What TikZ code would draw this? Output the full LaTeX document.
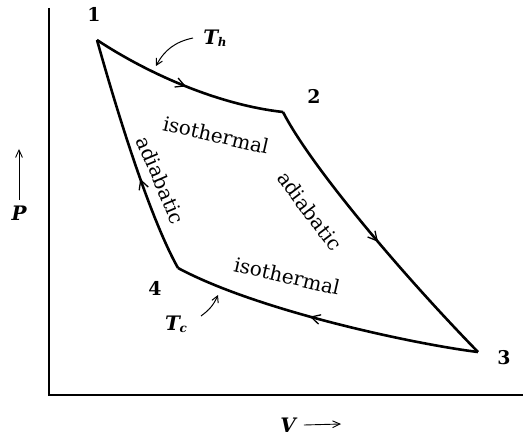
\documentclass[tikz,border=0pt]{standalone}
\usepackage{fontspec}
\setmainfont{DejaVu Serif}
\usetikzlibrary{arrows.meta,positioning,decorations.markings}

\begin{document}
\begin{tikzpicture}[
      x=1bp, y=-1bp,
      font=\fontsize{20}{22}\selectfont,
      axis/.style={line width=1.6bp},
      cyc/.style={line width=2.6bp, line join=miter},
      mid/.style={postaction={decorate}, decoration={markings,
        mark=at position #1 with {\arrow{Straight Barb[length=3.2mm, width=3.4mm, line width=1.3bp]}}}},
      pt/.style={inner sep=0pt, font=\fontsize{19}{21}\selectfont\bfseries},
      lab/.style={inner sep=0pt},
      sym/.style={inner sep=0pt, font=\fontsize{20}{22}\selectfont\bfseries\itshape},
      ptr/.style={-{Straight Barb[length=2.2mm, width=2.4mm]}, line width=1bp}
    ]
      \useasboundingbox (0,0) rectangle (523,438);
      % axes
      \coordinate (o) at (49,395);
      \draw[axis] (49,8) -- (o) -- (523,395);
      \node[sym] (p) at (19,213) {P};
      \coordinate (ptop) at (19,149);
      \draw[-{Straight Barb[length=2.6mm, width=2.4mm]}, line width=0.9bp] ([yshift=6bp]p.north) -- (ptop);
      \node[sym] (v) at (288,425) {V};
      \coordinate (vend) at (341,424);
      \draw[-{Straight Barb[length=2.6mm, width=2.4mm]}, line width=0.9bp] ([xshift=8bp]v.east) -- (vend);
      % cycle corners
      \coordinate (c1) at (97,40);
      \coordinate (c2) at (283,112);
      \coordinate (c3) at (478,352);
      \coordinate (c4) at (178,268);
      \node[pt] (n1) at (94,14) {1};
      \node[pt] (n2) at (314,96) {2};
      \node[pt] (n3) at (504,358) {3};
      \node[pt] (n4) at (155,288) {4};
      % the four strokes
      \draw[cyc, mid=0.5] (c1) .. controls (150,75) and (220,105) .. (c2);
      \draw[cyc, mid=0.52] (c2) .. controls (310,165) and (400,272) .. (c3);
      \draw[cyc, mid=0.55] (c3) .. controls (420,345) and (260,312) .. (c4);
      \draw[cyc, mid=0.4] (c4) .. controls (150,218) and (118,115) .. (c1);
      % process names
      \node[lab, rotate=-13] (iso1) at (216,135) {isothermal};
      \node[lab, rotate=-67] (adi1) at (161,180) {adiabatic};
      \node[lab, rotate=-53] (adi2) at (310,211) {adiabatic};
      \node[lab, rotate=-13] (iso2) at (287,276) {isothermal};
      % reservoir temperatures
      \node[sym] (th) at (215,38) {T\kern-0.5pt\raisebox{-2bp}{\fontsize{12}{13}\selectfont h}};
      \coordinate (thtip) at (156,66);
      \draw[ptr] (193,38) to[bend right=25] (thtip);
      \node[sym] (tc) at (176,324) {T\kern-0.5pt\raisebox{-2bp}{\fontsize{12}{13}\selectfont c}};
      \coordinate (tctip) at (218,295);
      \draw[ptr] (201,316) to[bend right=15] (tctip);
    \end{tikzpicture}
\end{document}
